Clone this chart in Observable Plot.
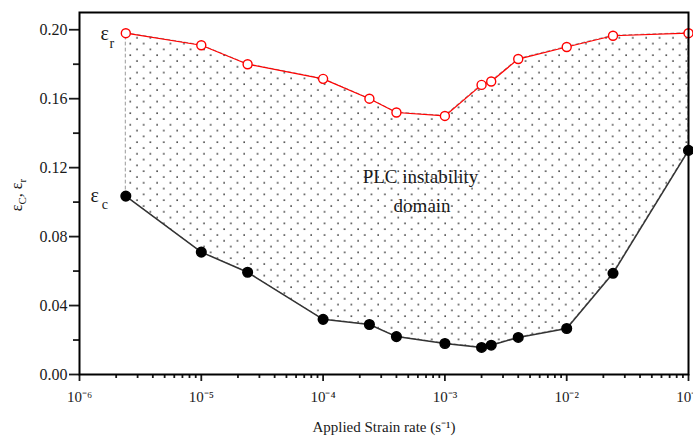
<!DOCTYPE html>
<html><head><meta charset="utf-8">
<script src="https://cdn.jsdelivr.net/npm/d3@7"></script>
<script src="https://cdn.jsdelivr.net/npm/@observablehq/plot@0.6"></script>
<style>body{margin:0;background:#fff} svg{display:block}</style>
</head><body><div id="chart"></div>
<script>
// Data
const strainRates = [2.4e-6, 1e-5, 2.4e-5, 1e-4, 2.4e-4, 4e-4, 1e-3, 2e-3, 2.4e-3, 4e-3, 1e-2, 2.4e-2, 1e-1];
const epsR = [0.198, 0.191, 0.180, 0.1715, 0.160, 0.152, 0.150, 0.168, 0.170, 0.183, 0.190, 0.1965, 0.198];
const epsC = [0.1035, 0.071, 0.0593, 0.032, 0.029, 0.022, 0.018, 0.0157, 0.017, 0.0215, 0.0267, 0.0587, 0.130];
const xMajorTicks = [1e-6, 1e-5, 1e-4, 1e-3, 1e-2, 1e-1];
const xTickLabels = ["10⁻⁶", "10⁻⁵", "10⁻⁴", "10⁻³", "10⁻²", "10⁻¹"];
const xMinorMultipliers = [2, 3, 4, 5, 6, 7, 8, 9];
const yMajorTicks = [0, 0.04, 0.08, 0.12, 0.16, 0.20];
const yMinorTicks = [0.02, 0.06, 0.10, 0.14, 0.18];
const labelR = [{x: 2.4e-6, y: 0.198, base: "ε", sub: "r"}];
const labelC = [{x: 2.4e-6, y: 0.1035, base: "ε", sub: "c"}];
const annotation = [
  {x: 6.3e-4, y: 0.1145, text: "PLC instability"},
  {x: 6.5e-4, y: 0.098, text: "domain"}
];
const xTitle = "Applied Strain rate (s⁻¹)";

const data = strainRates.map((x, i) => ({x, r: epsR[i], c: epsC[i]}));
const xMinorTicks = xMajorTicks.slice(0, -1).flatMap(d => xMinorMultipliers.map(m => d * m));
const serif = "'Liberation Serif', 'Times New Roman', serif";
const ink = "#1a1a1a";

const plot = Plot.plot({
  width: 693, height: 439,
  marginLeft: 79, marginRight: 5, marginTop: 12, marginBottom: 65,
  style: {fontFamily: serif, fontSize: "15px", color: ink, background: "#fff"},
  x: {type: "log", domain: [1e-6, 1e-1]},
  y: {domain: [0, 0.21]},
  marks: [
    Plot.areaY(data, {x: "x", y1: "c", y2: "r", fill: "url(#plcDots)", stroke: "#999", strokeDasharray: "3,3", strokeWidth: 1}),
    Plot.line(data, {x: "x", y: "c", stroke: "#333", strokeWidth: 1.5}),
    Plot.line(data, {x: "x", y: "r", stroke: "#f00", strokeWidth: 1.2}),
    Plot.dot(data, {x: "x", y: "r", r: 4.5, stroke: "#f00", fill: "#fff", strokeWidth: 1.4}),
    Plot.dot(data, {x: "x", y: "c", r: 4.8, fill: "#000", stroke: "#000"}),
    Plot.text(labelR, {x: "x", y: "y", text: "base", dx: -21, fontSize: 20, fill: ink}),
    Plot.text(labelR, {x: "x", y: "y", text: "sub", dx: -14, dy: 10, fontSize: 14, fill: ink}),
    Plot.text(labelC, {x: "x", y: "y", text: "base", dx: -31, fontSize: 20, fill: ink}),
    Plot.text(labelC, {x: "x", y: "y", text: "sub", dx: -21, dy: 8, fontSize: 14, fill: ink}),
    Plot.text(annotation, {x: "x", y: "y", text: "text", fontSize: 19, fill: ink}),
    Plot.axisX(xMajorTicks, {tickSize: 7, tickPadding: 10, strokeWidth: 1.8, fontSize: 14,
      tickFormat: d => xTickLabels[xMajorTicks.indexOf(d)],
      label: xTitle, labelAnchor: "center", labelOffset: 57, labelArrow: "none", fontSize: 15}),
    Plot.axisX(xMinorTicks, {tickSize: 4, strokeWidth: 1.8, tickFormat: () => "", label: null}),
    Plot.axisY(yMajorTicks, {tickSize: 10, tickPadding: 2, strokeWidth: 1.8, fontSize: 16,
      tickFormat: d => d.toFixed(2), label: null}),
    Plot.axisY(yMinorTicks, {tickSize: 6, strokeWidth: 1.8, tickFormat: () => "", label: null}),
    Plot.frame({stroke: "#000", strokeWidth: 2})
  ]
});

const svg = d3.select(plot);
const defs = svg.insert("defs", ":first-child");
const pat = defs.append("pattern").attr("id", "plcDots").attr("patternUnits", "userSpaceOnUse")
  .attr("width", 13.4).attr("height", 11.6);
pat.append("circle").attr("cx", 3).attr("cy", 3).attr("r", 0.9).attr("fill", "#222");
pat.append("circle").attr("cx", 9.7).attr("cy", 8.8).attr("r", 0.9).attr("fill", "#222");

// y axis title with subscripts
const yt = svg.append("text").attr("transform", "translate(22,195) rotate(-90)")
  .attr("text-anchor", "middle").attr("font-family", serif).attr("font-size", 16).attr("fill", ink);
yt.append("tspan").text("ε");
yt.append("tspan").attr("dy", 4).attr("font-size", 11).text("C");
yt.append("tspan").attr("dy", -4).text(", ε");
yt.append("tspan").attr("dy", 4).attr("font-size", 11).text("r");

document.getElementById("chart").append(plot);
</script>
</body></html>
